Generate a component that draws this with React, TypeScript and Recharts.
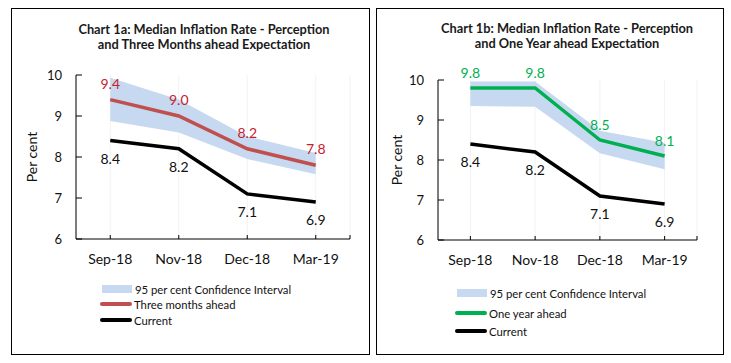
import {
  ComposedChart,
  Area,
  Line,
  XAxis,
  YAxis,
  CartesianGrid,
  LabelList,
} from "recharts";

const MONTHS = ["Sep-18", "Nov-18", "Dec-18", "Mar-19"];
const CURRENT = [8.4, 8.2, 7.1, 6.9];
const THREE_MONTHS = [9.4, 9.0, 8.2, 7.8];
const THREE_MONTHS_LOW = [8.88, 8.6, 7.95, 7.58];
const THREE_MONTHS_HIGH = [9.93, 9.4, 8.5, 8.1];
const ONE_YEAR = [9.8, 9.8, 8.5, 8.1];
const ONE_YEAR_LOW = [9.35, 9.33, 8.17, 7.77];
const ONE_YEAR_HIGH = [9.96, 9.96, 8.73, 8.43];
const Y_TICKS = [6, 7, 8, 9, 10];

const FONT = "Lato, 'Open Sans', sans-serif";
const BAND = "#c6d9f1";
const RED = "#c0504d";
const RED_TEXT = "#c8202f";
const GREEN = "#00b050";

const build = (ahead: number[], low: number[], high: number[]) =>
  MONTHS.map((m, i) => ({
    month: m,
    current: CURRENT[i],
    ahead: ahead[i],
    ci: [low[i], high[i]],
  }));

const leftData = build(THREE_MONTHS, THREE_MONTHS_LOW, THREE_MONTHS_HIGH);
const rightData = build(ONE_YEAR, ONE_YEAR_LOW, ONE_YEAR_HIGH);

const YTick = (props: any) => {
  const { x, y, payload } = props;
  return (
    <g>
      <line x1={x} x2={x + 6} y1={y} y2={y} stroke="#000" />
      <text x={x - 14} y={y} dy="0.35em" textAnchor="end" fontSize={13} fill="#111">
        {payload.value}
      </text>
    </g>
  );
};

const makeXTick = (band: number) => (props: any) => {
  const { x, y, payload, index } = props;
  return (
    <g>
      <line x1={x} x2={x} y1={y} y2={y - 4} stroke="#000" />
      {index === MONTHS.length - 1 && (
        <line x1={x + band / 2} x2={x + band / 2} y1={y} y2={y - 4} stroke="#000" />
      )}
      <text x={x} y={y + 20} dy="0.35em" textAnchor="middle" fontSize={14} fill="#111">
        {payload.value}
      </text>
    </g>
  );
};

interface PanelProps {
  data: any[];
  width: number;
  height: number;
  margin: { top: number; right: number; bottom: number; left: number };
  labelOffset: number;
  lineColor: string;
  textColor: string;
  aheadOffset: number;
}

function Panel({ data, width, height, margin, labelOffset, lineColor, textColor, aheadOffset }: PanelProps) {
  const yWidth = 50;
  const band = (width - margin.left - margin.right - yWidth) / MONTHS.length;
  return (
    <ComposedChart width={width} height={height} data={data} margin={margin} style={{ fontFamily: FONT }}>
      <CartesianGrid horizontal={false} stroke="#f2f2f2" />
      <XAxis
        dataKey="month"
        scale="band"
        height={30}
        tickSize={0}
        tickMargin={0}
        tickLine={false}
        axisLine={{ stroke: "#000" }}
        tick={makeXTick(band)}
        interval={0}
      />
      <YAxis
        domain={[6, 10]}
        ticks={Y_TICKS}
        width={yWidth}
        tickSize={0}
        tickMargin={0}
        tickLine={false}
        axisLine={{ stroke: "#000" }}
        tick={YTick}
        allowDataOverflow
        label={{
          value: "Per cent",
          angle: -90,
          position: "insideLeft",
          offset: labelOffset,
          style: { textAnchor: "middle", fontSize: 14, fill: "#111" },
        }}
      />
      <Area dataKey="ci" fill={BAND} fillOpacity={1} stroke="none" isAnimationActive={false} />
      <Line dataKey="ahead" stroke={lineColor} strokeWidth={3.5} dot={false} isAnimationActive={false}>
        <LabelList
          dataKey="ahead"
          position="top"
          offset={aheadOffset}
          fill={textColor}
          fontSize={14}
          formatter={(v: number) => v.toFixed(1)}
        />
      </Line>
      <Line dataKey="current" stroke="#000" strokeWidth={3.5} dot={false} isAnimationActive={false}>
        <LabelList
          dataKey="current"
          position="bottom"
          offset={13}
          fill="#111"
          fontSize={14}
          formatter={(v: number) => v.toFixed(1)}
        />
      </Line>
    </ComposedChart>
  );
}

const abs = (left: number, top: number, extra: any = {}) => ({
  position: "absolute" as const,
  left,
  top,
  ...extra,
});

const titleStyle = (cx: number, top: number) =>
  abs(cx - 170, top, {
    width: 340,
    textAlign: "center",
    fontWeight: 700,
    fontSize: 12.8,
    lineHeight: "15px",
    color: "#1a1a1a",
  });

const legendText = { fontSize: 11.3, color: "#111", whiteSpace: "nowrap" as const };

function LegendRow({ x, y, kind, color, text }: { x: number; y: number; kind: "band" | "line"; color: string; text: string }) {
  return (
    <div style={abs(x, y - 8, { display: "flex", alignItems: "center", height: 16 })}>
      {kind === "band" ? (
        <div style={{ width: 30, height: 8, background: color, marginRight: 3 }} />
      ) : (
        <div style={{ width: 32, height: 4, background: color, borderRadius: 2, marginRight: 2 }} />
      )}
      <span style={legendText}>{text}</span>
    </div>
  );
}

export default function App() {
  return (
    <div style={{ position: "absolute", left: 0, top: 0, width: 731, height: 363, background: "#fff", fontFamily: FONT }}>
      <div style={abs(11, 8, { width: 359, height: 347, border: "1px solid #000", boxSizing: "border-box" })} />
      <div style={abs(376, 8, { width: 348, height: 347, border: "1px solid #000", boxSizing: "border-box" })} />

      <div style={abs(0, 0)}>
        <Panel
          data={leftData}
          width={371}
          height={363}
          margin={{ top: 75, right: 21, bottom: 94, left: 26 }}
          labelOffset={6.5}
          lineColor={RED}
          textColor={RED_TEXT}
          aheadOffset={11}
        />
      </div>
      <div style={abs(371, 0)}>
        <Panel
          data={rightData}
          width={360}
          height={363}
          margin={{ top: 80, right: 34, bottom: 93, left: 17 }}
          labelOffset={9}
          lineColor={GREEN}
          textColor={GREEN}
          aheadOffset={10}
        />
      </div>

      <div style={titleStyle(204, 22)}>
        Chart 1a: Median Inflation Rate - Perception
        <br />
        and Three Months ahead Expectation
      </div>
      <div style={titleStyle(567, 21)}>
        Chart 1b: Median Inflation Rate - Perception
        <br />
        and One Year ahead Expectation
      </div>

      <LegendRow x={102} y={289} kind="band" color={BAND} text="95 per cent Confidence Interval" />
      <LegendRow x={100} y={304} kind="line" color={RED} text="Three months ahead" />
      <LegendRow x={100} y={320} kind="line" color="#000" text="Current" />

      <LegendRow x={457} y={293} kind="band" color={BAND} text="95 per cent Confidence Interval" />
      <LegendRow x={455} y={313} kind="line" color={GREEN} text="One year ahead" />
      <LegendRow x={455} y={331} kind="line" color="#000" text="Current" />
    </div>
  );
}
